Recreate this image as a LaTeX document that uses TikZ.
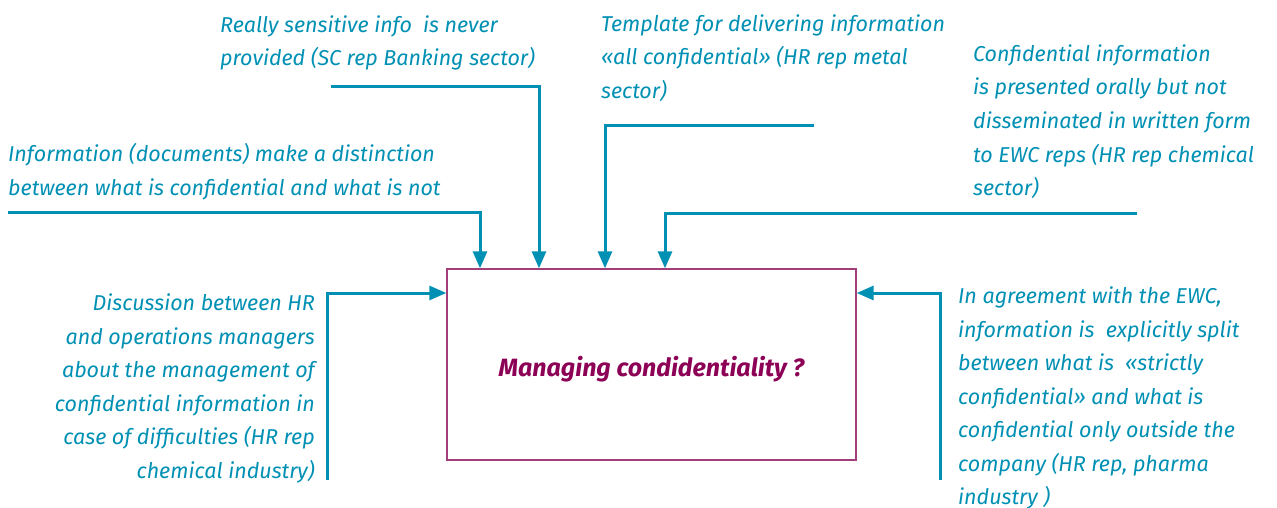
\documentclass[tikz,border=0pt]{standalone}
\usepackage{fontspec}
\setmainfont{Fira Sans}
\usetikzlibrary{arrows.meta}

\definecolor{feedblue}{RGB}{0,144,180}
\definecolor{boxpurple}{RGB}{162,62,122}
\definecolor{titlepurple}{RGB}{140,0,85}

\tikzset{
  feed/.style={draw=feedblue, line width=3pt, -{Triangle[length=17pt,width=14pt]}},
  quote/.style={text=feedblue, font=\fontsize{21.5}{33.5}\selectfont\itshape, inner sep=0pt},
}

\begin{document}
\begin{tikzpicture}[x=1pt,y=-1pt]
    \useasboundingbox (0,0) rectangle (1277,508);

    % Central box
    \node[draw=boxpurple, line width=1.3pt, minimum width=409pt, minimum height=191pt,
          inner sep=0pt, text=titlepurple, text height=29pt,
          font=\fontsize{25}{28}\selectfont\bfseries\itshape] (box) at (651.5,364.5)
        {Managing condidentiality ?};

    % Quotes (placed by the baseline of their last line)
    \node[quote, anchor=base west, align=left] (distinct) at (8,195)
        {Information (documents) make a distinction\\between what is confidential and what is not};
    \node[quote, anchor=base west, align=left] (sensitive) at (220,66)
        {Really sensitive info\ \ is never\\provided (SC rep Banking sector)};
    \node[quote, anchor=base west, align=left] (template) at (601,98.5)
        {Template for delivering information\\«all confidential» (HR rep metal\\sector)};
    \node[quote, anchor=base west, align=left] (oral) at (973,195.5)
        {Confidential information\\is presented orally but not\\disseminated in written form\\to EWC reps (HR rep chemical\\sector)};
    \node[quote, anchor=base east, align=right] (talks) at (315,478)
        {Discussion between HR\\and operations managers\\about the management of\\confidential information in\\case of difficulties (HR rep\\chemical industry)};
    \node[quote, anchor=base west, align=left] (split) at (958,504.5)
        {In agreement with the EWC,\\information is\ \ explicitly split\\between what is\ \ «strictly\\confidential» and what is\\confidential only outside the\\company (HR rep, pharma\\industry )};

    % Feeds from above
    \foreach \name/\sx/\sy/\bx in {distinct/8/212/480, sensitive/331/87/539,
                                   template/814/126/605, oral/1137/213/665} {
        \coordinate (\name-from) at (\sx,\sy);
        \coordinate (\name-bend) at (\bx,\sy);
        \draw[feed] (\name-from) -- (\name-bend) -- (\name-bend |- box.north);
    }

    % Feeds from the sides
    \coordinate (talks-from) at (327,480);
    \coordinate (talks-bend) at (327,293);
    \draw[feed] (talks-from) -- (talks-bend) -- (talks-bend -| box.west);
    \coordinate (split-from) at (940,480);
    \coordinate (split-bend) at (940,293);
    \draw[feed] (split-from) -- (split-bend) -- (split-bend -| box.east);
\end{tikzpicture}
\end{document}
